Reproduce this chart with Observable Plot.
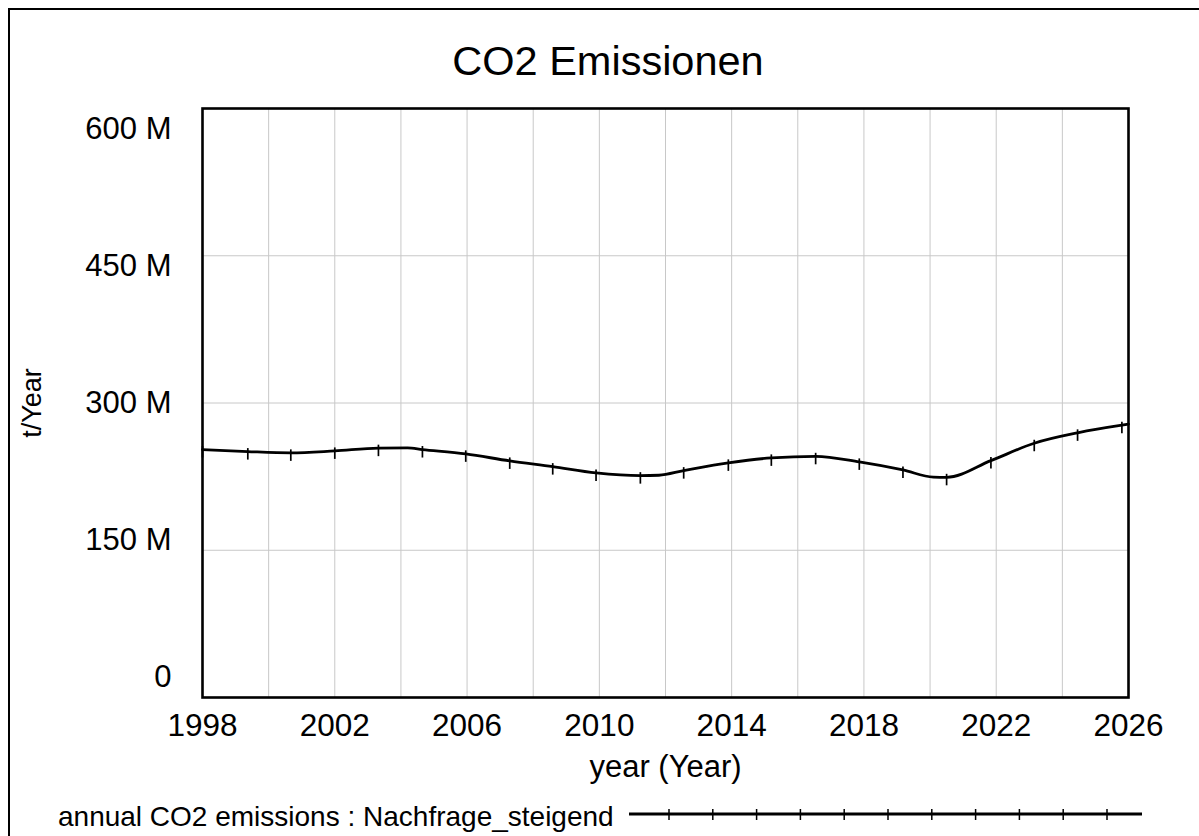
<!DOCTYPE html>
<html>
<head>
<meta charset="utf-8">
<script src="https://cdn.jsdelivr.net/npm/d3@7"></script>
<script src="https://cdn.jsdelivr.net/npm/@observablehq/plot@0.6"></script>
<style>
  html, body { margin: 0; padding: 0; background: #fff; }
  body { font-family: "Liberation Sans", Arial, Helvetica, sans-serif; color: #000; }
  #wrap { position: relative; width: 1199px; height: 836px; overflow: hidden; background: #fff; }
  #border { position: absolute; left: 8px; top: 8px; width: 1400px; height: 1100px; border: 2px solid #000; box-sizing: border-box; pointer-events: none; }
  #title { position: absolute; left: 0; width: 1216px; top: 40px; text-align: center; font-size: 41.5px; line-height: 1; white-space: nowrap; }
  #chart { position: absolute; left: 0; top: 0; }
  #legendText { position: absolute; left: 58px; top: 803px; font-size: 28px; line-height: 1; white-space: nowrap; }
  #legendSwatch { position: absolute; left: 629px; top: 803px; }
</style>
</head>
<body>
<div id="wrap">
  <div id="chart"></div>
  <div id="title"></div>
  <div id="legendText"></div>
  <svg id="legendSwatch" width="516" height="22"></svg>
  <div id="border"></div>
</div>
<script>
// ---- data (values in million t/Year) ----
const chartTitle = "CO2 Emissionen";
const xAxisTitle = "year (Year)";
const yAxisTitle = "t/Year";
const seriesName = "annual CO2 emissions : Nachfrage_steigend";

const lineYears  = [1998.00, 1999.37, 2000.67, 2002.00, 2003.32, 2004.20, 2004.65, 2005.96, 2007.29, 2008.59,
                    2009.90, 2011.24, 2011.80, 2012.55, 2013.90, 2015.20, 2016.54, 2017.86, 2019.18, 2020.10,
                    2020.50, 2021.84, 2023.15, 2024.46, 2025.80, 2026.00];
const lineValues = [252.6, 250.5, 249.2, 251.2, 254.0, 254.2, 252.6, 248.2, 241.0, 235.2,
                    228.8, 226.0, 226.4, 231.1, 239.0, 244.1, 245.7, 240.0, 231.8, 224.5,
                    224.3, 241.3, 259.0, 269.6, 277.4, 278.4];
const markerYears = [1998.00, 1999.37, 2000.67, 2002.00, 2003.32, 2004.65, 2005.96, 2007.29, 2008.59, 2009.90,
                     2011.24, 2012.55, 2013.90, 2015.20, 2016.54, 2017.86, 2019.18, 2020.50, 2021.84, 2023.15,
                     2024.46, 2025.80];

const xTicks = [1998, 2002, 2006, 2010, 2014, 2018, 2022, 2026];
const xGrid = [2000, 2002, 2004, 2006, 2008, 2010, 2012, 2014, 2016, 2018, 2020, 2022, 2024];
const yTicks = [0, 150, 300, 450, 600];
const yTickLabels = ["0", "150 M", "300 M", "450 M", "600 M"];
const yGrid = [150, 300, 450];
const legendMarkerCount = 11;

// ---- build tables ----
const lineData = lineYears.map((yr, i) => ({year: yr, value: lineValues[i]}));
const markerData = markerYears.map(yr => lineData.find(d => d.year === yr));

const tickSymbol = { draw(ctx) { ctx.moveTo(0, -3.5); ctx.lineTo(0, 8); } };

const yLabelMarks = yTicks.map((v, i) =>
  Plot.text([v], {
    y: d => d,
    text: () => yTickLabels[i],
    frameAnchor: "left",
    textAnchor: "end",
    lineAnchor: "middle",
    dx: -31,
    dy: -20.8 + 41 * (v / 600),
    fontSize: 31,
    fill: "black"
  })
);

const plot = Plot.plot({
  width: 1199,
  height: 836,
  marginLeft: 202,
  marginRight: 71,
  marginTop: 108,
  marginBottom: 139,
  style: { fontFamily: '"Liberation Sans", Arial, Helvetica, sans-serif', color: "black", background: "transparent", overflow: "visible" },
  x: { domain: [1998, 2026], nice: false },
  y: { domain: [0, 600], nice: false },
  marks: [
    Plot.ruleX(xGrid, { stroke: "#c8c8c8", strokeWidth: 1 }),
    Plot.ruleY(yGrid, { stroke: "#c8c8c8", strokeWidth: 1 }),
    Plot.line(lineData, { x: "year", y: "value", curve: "monotone-x", stroke: "black", strokeWidth: 2.8 }),
    Plot.dot(markerData, { x: "year", y: "value", symbol: tickSymbol, stroke: "black", strokeWidth: 1.7, fill: "none" }),
    Plot.frame({ stroke: "black", strokeWidth: 2.6 }),
    Plot.axisX(xTicks, { tickSize: 0, tickPadding: 16, tickFormat: d => String(d), fontSize: 31.5, label: null, fill: "black" }),
    Plot.axisY([], { label: null }),
    ...yLabelMarks,
    Plot.text([xAxisTitle], { frameAnchor: "bottom", dy: 70, textAnchor: "middle", lineAnchor: "middle", fontSize: 31, fill: "black" }),
    Plot.text([yAxisTitle], { frameAnchor: "left", dx: -170, rotate: -90, textAnchor: "middle", lineAnchor: "middle", fontSize: 27, fill: "black" })
  ]
});
document.getElementById("chart").appendChild(plot);
document.getElementById("title").textContent = chartTitle;
document.getElementById("legendText").textContent = seriesName;

// legend swatch
const sw = d3.select("#legendSwatch");
sw.append("line").attr("x1", 0).attr("x2", 513).attr("y1", 11).attr("y2", 11)
  .attr("stroke", "black").attr("stroke-width", 2.8);
sw.selectAll("line.m").data(d3.range(legendMarkerCount)).join("line").attr("class", "m")
  .attr("x1", i => 40 + i * 43.8).attr("x2", i => 40 + i * 43.8)
  .attr("y1", 6).attr("y2", 17).attr("stroke", "black").attr("stroke-width", 1.5);
</script>
</body>
</html>
